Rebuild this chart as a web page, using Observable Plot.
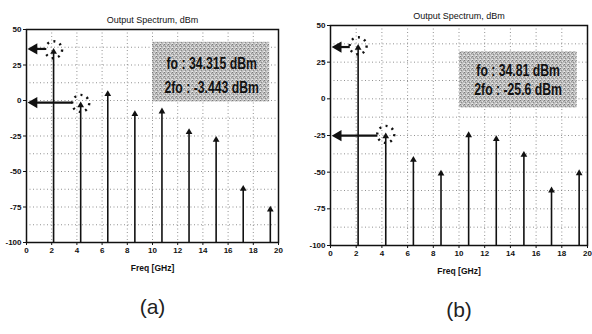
<!DOCTYPE html>
<html><head><meta charset="utf-8">
<script src="https://cdn.jsdelivr.net/npm/d3@7"></script>
<script src="https://cdn.jsdelivr.net/npm/@observablehq/plot@0.6"></script>
<style>
body{margin:0;background:#fff;width:592px;height:334px;overflow:hidden;}
#wrap{display:flex;width:592px;}
svg{display:block;}
</style></head><body><div id="wrap"></div>
<script>
// ---- data ----
const harmonicsGHz = [2.15, 4.3, 6.45, 8.6, 10.75, 12.9, 15.05, 17.2, 19.35];
const powerA = [34.315, -3.443, 4.5, -9.6, -7.7, -22.3, -27.7, -62.2, -76.8];
const powerB = [34.81, -25.6, -41.6, -51, -24.8, -27.5, -38.2, -62.5, -50.7];
const xTicks = [0, 2, 4, 6, 8, 10, 12, 14, 16, 18, 20];
const yTicks = [50, 25, 0, -25, -50, -75, -100];
const yGrid = [37.5, 25, 12.5, 0, -12.5, -25, -37.5, -50, -62.5, -75, -87.5];
const titleText = "Output Spectrum, dBm";
const xLabelText = "Freq [GHz]";
const annotA = ["fo : 34.315 dBm", "2fo : -3.443 dBm"];
const annotB = ["fo : 34.81 dBm", "2fo : -25.6 dBm"];
const panelLabels = ["(a)", "(b)"];

const ink = "#111";
const font = "Liberation Sans, Arial, sans-serif";

function panel(cfg) {
  const data = harmonicsGHz.map((f, i) => ({f, p: cfg.power[i]}));
  const marked = data.slice(0, 2);
  const lines = cfg.annot.map((t, i) => ({t, y: cfg.annotY[i]}));
  const svg = Plot.plot({
    width: 296, height: 334,
    marginLeft: cfg.ml, marginRight: cfg.mr, marginTop: cfg.mt, marginBottom: cfg.mb,
    x: {domain: [0, 20]},
    y: {domain: [-100, 50]},
    style: {fontFamily: font, fontSize: "8px", fontWeight: "bold", color: ink, background: "#fff"},
    marks: [
      Plot.gridY(yGrid, {stroke: "#777", strokeOpacity: 0.8, strokeDasharray: "1,2.5"}),
      Plot.gridX(xTicks, {stroke: "#777", strokeOpacity: 0.8, strokeDasharray: "1,2.5"}),
      Plot.rect([0], {x1: cfg.box[0], x2: cfg.box[1], y1: cfg.box[2], y2: cfg.box[3], fill: `url(#dither${cfg.id})`}),
      Plot.text(lines, {x: cfg.annotX, y: "y", text: "t", fontSize: 17, fontWeight: "bold",
        fontFamily: "Liberation Sans, Arial, sans-serif", fill: ink, className: "annot"}),
      Plot.ruleX(data, {x: "f", y1: -100, y2: "p", stroke: ink, strokeWidth: 1.6}),
      Plot.dot(data, {x: "f", y: "p", symbol: "triangle", r: 2.5, fill: ink, stroke: "none"}),
      Plot.dot(marked, {x: "f", y: "p", r: 8.5, dy: -2, fill: "none", stroke: ink, strokeWidth: 2.4, strokeDasharray: "2,4.6"}),
      Plot.link(marked, {x1: d => d.f - 0.65, x2: 0.75, y1: d => d.p + cfg.arrowDy, y2: d => d.p + cfg.arrowDy, stroke: ink, strokeWidth: 2.2}),
      Plot.dot(marked, {x: 0.6, y: d => d.p + cfg.arrowDy, symbol: "triangle", rotate: -90, r: 4.2, fill: ink, stroke: "none"}),
      Plot.frame({stroke: ink, strokeWidth: 1.5}),
      Plot.axisX({ticks: xTicks, tickSize: 3, tickPadding: 2, label: null, tickFormat: d => d}),
      Plot.axisY({ticks: yTicks, tickSize: 3, tickPadding: 2, label: null, tickFormat: d => d}),
      Plot.text([titleText], {frameAnchor: "top", dy: -cfg.titleDy, fontSize: 9, fontWeight: "normal", fill: ink}),
      Plot.text([xLabelText], {frameAnchor: "bottom", dy: 28, fontSize: 8.5, fontWeight: "bold", fill: ink}),
      Plot.text([cfg.label], {frameAnchor: "bottom", dy: 71, fontSize: 21, fontWeight: "normal", fill: "#222"})
    ]
  });
  // condensed look for the annotation text
  d3.select(svg).selectAll("g.annot text").each(function() {
    const t = this.getAttribute("transform") || "";
    this.setAttribute("transform", t + " scale(0.72,1)");
  });
  // dithered grey texture for the annotation box
  const defs = d3.select(svg).insert("defs", ":first-child");
  const pat = defs.append("pattern").attr("id", `dither${cfg.id}`).attr("patternUnits", "userSpaceOnUse")
    .attr("width", 4).attr("height", 4);
  pat.append("rect").attr("width", 4).attr("height", 4).attr("fill", "#bcbcbc");
  [[0,0,"#7a7a7a"],[2,1,"#e4e4e4"],[1,2,"#8c8c8c"],[3,3,"#dadada"],[3,1,"#9a9a9a"],[0,3,"#ececec"]]
    .forEach(([x, y, c]) => pat.append("rect").attr("x", x).attr("y", y).attr("width", 1).attr("height", 1).attr("fill", c));
  return svg;
}

const wrap = document.getElementById("wrap");
wrap.append(panel({id: "a", power: powerA, annot: annotA, label: panelLabels[0],
  ml: 26, mr: 18, mt: 29, mb: 92, titleDy: 13,
  box: [10.0, 19.3, -1, 41], annotX: 14.7, annotY: [26.3, 9.4], arrowDy: 2}));
wrap.append(panel({id: "b", power: powerB, annot: annotB, label: panelLabels[1],
  ml: 34, mr: 5, mt: 25, mb: 89, titleDy: 13,
  box: [10.05, 19.2, -6.3, 32.2], annotX: 14.6, annotY: [19.3, 6.1], arrowDy: 0.5}));
</script>
</body></html>
